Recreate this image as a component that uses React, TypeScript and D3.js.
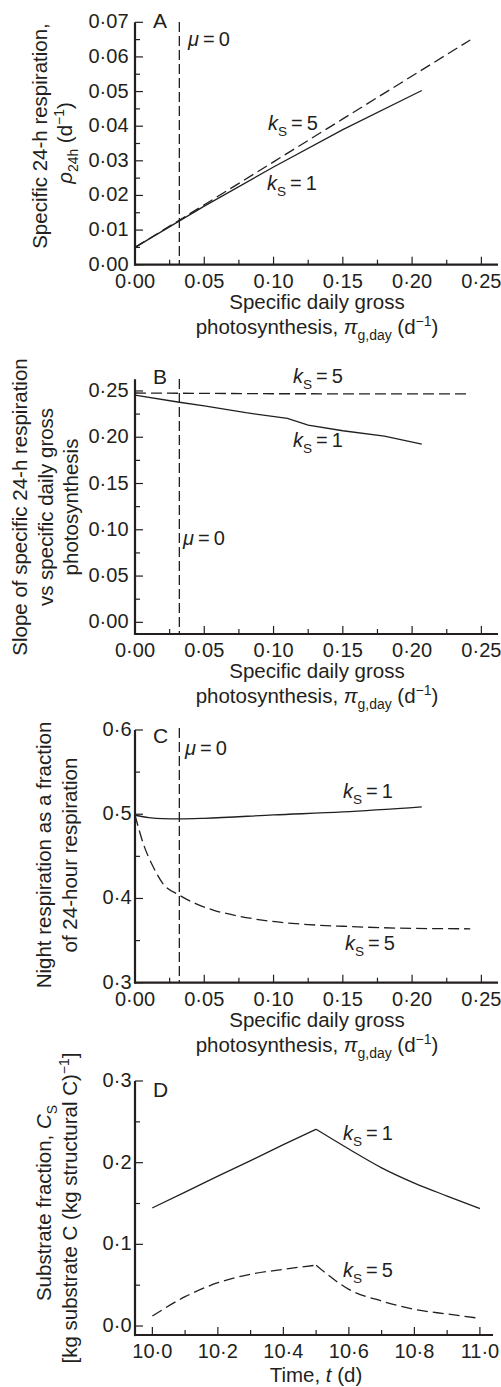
import { useRef, useEffect } from 'react'
import * as d3 from 'd3'

// Panel A: specific 24-h respiration vs specific daily gross photosynthesis
const piA1 = [0, 0.05, 0.1, 0.15, 0.207]
const rhoA1 = [0.005, 0.0169, 0.0282, 0.039, 0.0503]
const piA5 = [0, 0.05, 0.1, 0.15, 0.2, 0.242]
const rhoA5 = [0.005, 0.0173, 0.0297, 0.0421, 0.0545, 0.0649]

// Panel B: slope of 24-h respiration vs gross photosynthesis
const piB1 = [0, 0.032, 0.05, 0.08, 0.11, 0.125, 0.15, 0.18, 0.207]
const slopeB1 = [0.2455, 0.2378, 0.2338, 0.2265, 0.2204, 0.213, 0.207, 0.2012, 0.1925]
const piB5 = [0, 0.1, 0.242]
const slopeB5 = [0.2478, 0.247, 0.2468]

// Panel C: night respiration as a fraction of 24-h respiration
const piC1 = [0, 0.01, 0.02, 0.032, 0.05, 0.1, 0.15, 0.207]
const fracC1 = [0.4988, 0.496, 0.4948, 0.4946, 0.4952, 0.4992, 0.5027, 0.5087]
const piC5 = [0, 0.006, 0.013, 0.02, 0.032, 0.045, 0.057, 0.075, 0.093, 0.125, 0.15, 0.2, 0.242]
const fracC5 = [0.499, 0.465, 0.438, 0.418, 0.404, 0.393, 0.386, 0.379, 0.374, 0.369, 0.367, 0.3645, 0.364]

// Panel D: substrate fraction over one day
const tD = [10.0, 10.1, 10.2, 10.3, 10.4, 10.5, 10.6, 10.7, 10.8, 10.9, 11.0]
const cS1 = [0.1446, 0.164, 0.1835, 0.2025, 0.222, 0.2409, 0.2167, 0.1937, 0.175, 0.1591, 0.1437]
const cS5 = [0.0122, 0.0359, 0.053, 0.0633, 0.0694, 0.0745, 0.0449, 0.0306, 0.0204, 0.0147, 0.0094]
const peakIndex = 5

// ticks
const piTicks = [0, 0.05, 0.1, 0.15, 0.2, 0.25]
const rhoTicks = [0, 0.01, 0.02, 0.03, 0.04, 0.05, 0.06, 0.07]
const slopeTicks = [0, 0.05, 0.1, 0.15, 0.2, 0.25]
const fracTicks = [0.3, 0.4, 0.5, 0.6]
const cSTicks = [0, 0.1, 0.2, 0.3]
const tTicks = [10.0, 10.2, 10.4, 10.6, 10.8, 11.0]
const muZero = 0.032

const W = 501
const H = 1387
const FONT = '"Liberation Sans", Arial, Helvetica, sans-serif'
const INK = '#231f20'

type Seg = { t: string; i?: boolean; sub?: boolean; sup?: boolean }
type Sel = d3.Selection<any, any, any, any>

function rich(sel: Sel, segs: Seg[], size: number) {
  let shift = 0
  segs.forEach(s => {
    const target = s.sub ? size * 0.3 : s.sup ? -size * 0.38 : 0
    const ts = sel.append('tspan').text(s.t).attr('dy', target - shift)
    if (s.i) ts.attr('font-style', 'italic')
    if (s.sub || s.sup) ts.attr('font-size', size * 0.68)
    shift = target
  })
}

function label(g: Sel, x: number, y: number, segs: Seg[], size = 20, anchor = 'start', rotate = false) {
  const t = g.append('text')
    .attr('font-size', size)
    .attr('text-anchor', anchor)
    .attr('fill', INK)
  if (rotate) t.attr('transform', `translate(${x},${y}) rotate(-90)`)
  else t.attr('x', x).attr('y', y)
  rich(t, segs, size)
}

const dot = (f: string) => (v: number) => d3.format(f)(v).replace('.', '·')
const ks = (n: string): Seg[] => [{ t: 'k', i: true }, { t: 'S', sub: true }, { t: `\u2009=\u2009${n}` }]
const mu: Seg[] = [{ t: 'μ', i: true }, { t: '\u2009=\u20090' }]
const piTitle: Seg[][] = [
  [{ t: 'Specific daily gross' }],
  [{ t: 'photosynthesis, ' }, { t: 'π', i: true }, { t: 'g,day', sub: true }, { t: ' (d' }, { t: '−1', sup: true }, { t: ')' }],
]

interface AxisCfg {
  x: d3.ScaleLinear<number, number>
  y: d3.ScaleLinear<number, number>
  xTicks: number[]
  xMinor: number[]
  yTicks: number[]
  yMinor: number[]
  xFmt: (v: number) => string
  yFmt: (v: number) => string
  yLabelX: number
}

function drawAxes(g: Sel, c: AxisCfg) {
  const [x0, x1] = c.x.range()
  const [yb, yt] = c.y.range()
  const ax = g.append('g').attr('stroke', INK)
  ax.append('line').attr('x1', x0).attr('x2', x1).attr('y1', yb).attr('y2', yb).attr('stroke-width', 2.2)
  ax.append('line').attr('x1', x0).attr('x2', x0).attr('y1', yb + 1.1).attr('y2', yt).attr('stroke-width', 2.2)

  ax.selectAll('.xt').data(c.xTicks).join('line')
    .attr('x1', d => c.x(d)).attr('x2', d => c.x(d)).attr('y1', yb).attr('y2', yb - 8).attr('stroke-width', 1.2)
  ax.selectAll('.xm').data(c.xMinor).join('line')
    .attr('x1', d => c.x(d)).attr('x2', d => c.x(d)).attr('y1', yb).attr('y2', yb - 5).attr('stroke-width', 1.2)
  ax.selectAll('.yt').data(c.yTicks).join('line')
    .attr('x1', x0).attr('x2', x0 + 8).attr('y1', d => c.y(d)).attr('y2', d => c.y(d)).attr('stroke-width', 1.2)
  ax.selectAll('.ym').data(c.yMinor).join('line')
    .attr('x1', x0).attr('x2', x0 + 5).attr('y1', d => c.y(d)).attr('y2', d => c.y(d)).attr('stroke-width', 1.2)

  const tl = g.append('g').attr('font-size', 20).attr('fill', INK)
  tl.selectAll('.xl').data(c.xTicks).join('text')
    .attr('x', d => c.x(d)).attr('y', yb + 23).attr('text-anchor', 'middle').text(d => c.xFmt(d))
  tl.selectAll('.yl').data(c.yTicks).join('text')
    .attr('x', c.yLabelX).attr('y', d => c.y(d) + 6).attr('text-anchor', 'end').text(d => c.yFmt(d))
}

function drawSeries(g: Sel, x: d3.ScaleLinear<number, number>, y: d3.ScaleLinear<number, number>,
  xs: number[], ys: number[], dashed: boolean, curve: d3.CurveFactory = d3.curveLinear) {
  const line = d3.line<[number, number]>().x(d => x(d[0])).y(d => y(d[1])).curve(curve)
  g.append('path')
    .datum(d3.zip(xs, ys) as [number, number][])
    .attr('fill', 'none')
    .attr('stroke', INK)
    .attr('stroke-width', 1.3)
    .attr('stroke-dasharray', dashed ? '11,5' : null)
    .attr('d', line)
}

function drawMu(g: Sel, x: d3.ScaleLinear<number, number>, yTop: number, yBottom: number) {
  g.append('line')
    .attr('x1', x(muZero)).attr('x2', x(muZero))
    .attr('y1', yTop).attr('y2', yBottom)
    .attr('stroke', INK).attr('stroke-width', 1.3).attr('stroke-dasharray', '10,4')
}

export default function App() {
  const ref = useRef<SVGSVGElement>(null)

  useEffect(() => {
    const svg = d3.select(ref.current)
    svg.selectAll('*').remove()
    const root = svg.append('g').attr('font-family', FONT) as unknown as Sel

    const piScale = () => d3.scaleLinear().domain([0, 0.262]).range([135, 498])
    const piMinor = d3.range(0.025, 0.26, 0.05)

    // ---- A ----
    const xA = piScale()
    const yA = d3.scaleLinear().domain([0, 0.07]).range([264.7, 22.3])
    const gA = root.append('g')
    drawMu(gA, xA, 22, 264)
    drawSeries(gA, xA, yA, piA5, rhoA5, true)
    drawSeries(gA, xA, yA, piA1, rhoA1, false)
    drawAxes(gA, {
      x: xA, y: yA, xTicks: piTicks, xMinor: piMinor,
      yTicks: rhoTicks, yMinor: d3.range(0.005, 0.07, 0.01),
      xFmt: dot('.2f'), yFmt: dot('.2f'), yLabelX: 128.5,
    })
    label(gA, 153, 28, [{ t: 'A' }], 21)
    label(gA, 188, 46, mu)
    label(gA, 268, 130, ks('5'))
    label(gA, 267, 190, ks('1'))
    label(gA, 46.5, 136, [{ t: 'Specific 24-h respiration,' }], 20.5, 'middle', true)
    label(gA, 72, 143, [{ t: 'ρ', i: true }, { t: '24h', sub: true }, { t: ' (d' }, { t: '−1', sup: true }, { t: ')' }], 20.5, 'middle', true)
    label(gA, 317, 309, piTitle[0], 20.5, 'middle')
    label(gA, 317, 334, piTitle[1], 20.5, 'middle')

    // ---- B ----
    const xB = piScale()
    const yB = d3.scaleLinear().domain([-0.0126, 0.2626]).range([634, 379.3])
    const gB = root.append('g')
    drawMu(gB, xB, 379, 634)
    drawSeries(gB, xB, yB, piB5, slopeB5, true)
    drawSeries(gB, xB, yB, piB1, slopeB1, false)
    drawAxes(gB, {
      x: xB, y: yB, xTicks: piTicks, xMinor: piMinor,
      yTicks: slopeTicks, yMinor: d3.range(0.025, 0.26, 0.05),
      xFmt: dot('.2f'), yFmt: dot('.2f'), yLabelX: 128.5,
    })
    label(gB, 153, 384, [{ t: 'B' }], 21)
    label(gB, 293, 383, ks('5'))
    label(gB, 293, 447, ks('1'))
    label(gB, 183, 545, mu)
    label(gB, 27, 507, [{ t: 'Slope of specific 24-h respiration' }], 20.5, 'middle', true)
    label(gB, 52.5, 507, [{ t: 'vs specific daily gross' }], 20.5, 'middle', true)
    label(gB, 78, 507, [{ t: 'photosynthesis' }], 20.5, 'middle', true)
    label(gB, 317, 678, piTitle[0], 20.5, 'middle')
    label(gB, 317, 703, piTitle[1], 20.5, 'middle')

    // ---- C ----
    const xC = piScale()
    const yC = d3.scaleLinear().domain([0.3, 0.6]).range([982.7, 730])
    const gC = root.append('g')
    drawMu(gC, xC, 728, 982)
    drawSeries(gC, xC, yC, piC5, fracC5, true, d3.curveMonotoneX)
    drawSeries(gC, xC, yC, piC1, fracC1, false, d3.curveMonotoneX)
    drawAxes(gC, {
      x: xC, y: yC, xTicks: piTicks, xMinor: piMinor,
      yTicks: fracTicks, yMinor: d3.range(0.35, 0.6, 0.1),
      xFmt: dot('.2f'), yFmt: dot('.1f'), yLabelX: 131.5,
    })
    label(gC, 153, 743, [{ t: 'C' }], 21)
    label(gC, 185, 755, mu)
    label(gC, 343, 798, ks('1'))
    label(gC, 345, 950, ks('5'))
    label(gC, 51, 855, [{ t: 'Night respiration as a fraction' }], 20.5, 'middle', true)
    label(gC, 76.5, 855, [{ t: 'of 24-hour respiration' }], 20.5, 'middle', true)
    label(gC, 317, 1027, piTitle[0], 20.5, 'middle')
    label(gC, 317, 1052, piTitle[1], 20.5, 'middle')

    // ---- D ----
    const xD = d3.scaleLinear().domain([9.947, 11.04]).range([135, 493])
    const yD = d3.scaleLinear().domain([-0.011, 0.3]).range([1335, 1081])
    const gD = root.append('g')
    const rise = tD.slice(0, peakIndex + 1)
    const fall = tD.slice(peakIndex)
    drawSeries(gD, xD, yD, rise, cS5.slice(0, peakIndex + 1), true, d3.curveMonotoneX)
    drawSeries(gD, xD, yD, fall, cS5.slice(peakIndex), true, d3.curveMonotoneX)
    drawSeries(gD, xD, yD, rise, cS1.slice(0, peakIndex + 1), false, d3.curveMonotoneX)
    drawSeries(gD, xD, yD, fall, cS1.slice(peakIndex), false, d3.curveMonotoneX)
    drawAxes(gD, {
      x: xD, y: yD, xTicks: tTicks, xMinor: d3.range(10.1, 11, 0.2),
      yTicks: cSTicks, yMinor: d3.range(0.05, 0.3, 0.1),
      xFmt: dot('.1f'), yFmt: dot('.1f'), yLabelX: 131.5,
    })
    label(gD, 153, 1097, [{ t: 'D' }], 21)
    label(gD, 343, 1140, ks('1'))
    label(gD, 343, 1277, ks('5'))
    label(gD, 51, 1203, [{ t: 'Substrate fraction, ' }, { t: 'C', i: true }, { t: 'S', sub: true }], 20.5, 'middle', true)
    label(gD, 76.5, 1208, [{ t: '[kg substrate C (kg structural C)' }, { t: '−1', sup: true }, { t: ']' }], 20.5, 'middle', true)
    label(gD, 316, 1382, [{ t: 'Time, ' }, { t: 't', i: true }, { t: ' (d)' }], 20.5, 'middle')
  }, [])

  return (
    <svg
      ref={ref}
      width={W}
      height={H}
      style={{ position: 'absolute', left: 0, top: 0, background: '#fff' }}
    />
  )
}
